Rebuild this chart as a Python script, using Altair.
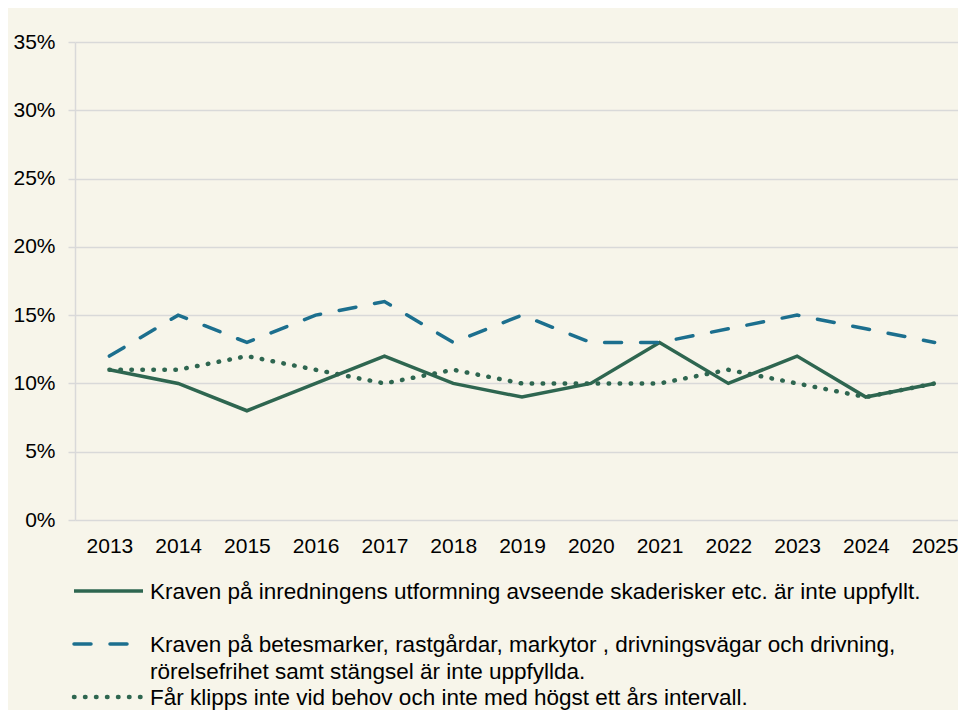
import altair as alt
import pandas as pd

years = list(range(2013, 2026))
inredning = [11, 10, 8, 10, 12, 10, 9, 10, 13, 10, 12, 9, 10]
betesmark = [12, 15, 13, 15, 16, 13, 15, 13, 13, 14, 15, 14, 13]
klippning = [11, 11, 12, 11, 10, 11, 10, 10, 10, 11, 10, 9, 10]

series_names = ["inredning", "betesmark", "klippning"]
legend_texts = [
    "Kraven på inredningens utformning avseende skaderisker etc. är inte uppfyllt.",
    "Kraven på betesmarker, rastgårdar, markytor , drivningsvägar och drivning,\nrörelsefrihet samt stängsel är inte uppfyllda.",
    "Får klipps inte vid behov och inte med högst ett års intervall.",
]
y_ticks = [0, 5, 10, 15, 20, 25, 30, 35]

colors = ["#2E6650", "#1C6F8E", "#2E6650"]
dashes = [None, [17, 19], [0.5, 10.5]]
caps = ["butt", "round", "round"]
widths = [3.5, 3.5, 4.5]

FONT = "Liberation Sans, Arial, sans-serif"
BG = "#F7F5EA"
GRID = "#D9D9D9"

rows = []
for name, vals in zip(series_names, [inredning, betesmark, klippning]):
    for yr, v in zip(years, vals):
        rows.append({"year": yr, "value": v, "series": name})
df = pd.DataFrame(rows)

x_enc = alt.X(
    "year:Q",
    scale=alt.Scale(domain=[2012.5, 2025.5], nice=False, zero=False),
    axis=alt.Axis(values=years, format="d", title=None, grid=False, ticks=False,
                  domain=False, labelFontSize=21, labelPadding=15, labelColor="#000000",
                  labelFont=FONT, labelOverlap=False, labelFlush=False),
)
y_enc = alt.Y(
    "value:Q",
    scale=alt.Scale(domain=[0, 35], nice=False),
    axis=alt.Axis(values=y_ticks, labelExpr="datum.value + '%'", title=None,
                  grid=True, gridColor=GRID, gridWidth=1.5, domain=True, domainColor=GRID,
                  domainWidth=1.5, ticks=True, tickSize=7, tickColor=GRID, tickWidth=1.5,
                  labelFontSize=21, labelPadding=13, labelColor="#000000", labelFont=FONT),
)

layers = []
for i, name in enumerate(series_names):
    mk = dict(color=colors[i], strokeWidth=widths[i], strokeCap=caps[i])
    if dashes[i] is not None:
        mk["strokeDash"] = dashes[i]
    layers.append(
        alt.Chart(df).transform_filter(alt.datum.series == name).mark_line(**mk).encode(
            x=x_enc, y=y_enc
        )
    )
main = alt.layer(*layers).properties(width=894, height=478)

leg_df = pd.DataFrame({"series": series_names, "row": [0, 1, 2], "label": legend_texts})
leg_y = alt.Y("row:O", scale=alt.Scale(type="point", padding=0, domain=[0, 1, 2]), axis=None)

leg_layers = []
for i, name in enumerate(series_names):
    mk = dict(color=colors[i], strokeWidth=widths[i], strokeCap=caps[i])
    if dashes[i] is not None:
        mk["strokeDash"] = dashes[i]
    leg_layers.append(
        alt.Chart(leg_df).transform_filter(alt.datum.series == name).mark_rule(**mk).encode(
            x=alt.value(-1), x2=alt.value(68), y=leg_y
        )
    )
leg_text = alt.Chart(leg_df).mark_text(
    align="left", baseline="top", dy=-10.5, fontSize=22.5, font=FONT, color="#000000",
    lineBreak="\n", lineHeight=27
).encode(x=alt.value(75), y=leg_y, text="label:N")

legend = alt.layer(*leg_layers, leg_text).properties(width=894, height=106)

chart = alt.vconcat(main, legend, spacing=24).properties(
    background=BG,
    padding={"left": 4, "top": 23, "right": -11, "bottom": 1},
).configure_view(stroke=None).configure_concat(spacing=24)

chart.save("out.html", embed_options={"renderer": "svg", "actions": False})
